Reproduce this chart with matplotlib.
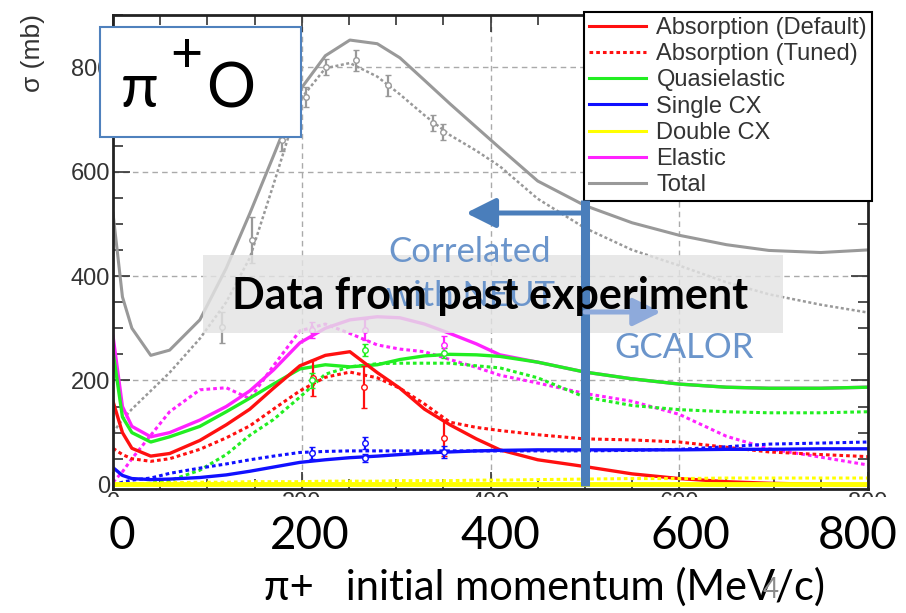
import matplotlib
matplotlib.use('Agg')
import matplotlib.pyplot as plt
from matplotlib.patches import Rectangle

plt.rcParams['font.family'] = ['Liberation Sans', 'DejaVu Sans']

# momento inicial del pion (MeV/c)
p = [0, 10, 20, 40, 60, 92, 120, 145, 170, 198, 225, 251, 280, 304, 330, 357,
     385, 410, 450, 500, 550, 600, 650, 695, 750, 800]

total = [520, 360, 300, 248, 258, 316, 415, 520, 630, 756, 822, 852, 845, 818, 775, 730,
         685, 645, 582, 535, 502, 478, 460, 449, 445, 450]
total_tuned = [100, 125, 145, 180, 215, 280, 350, 435, 575, 737, 798, 808, 782, 748, 708, 670,
               640, 610, 548, 492, 450, 420, 388, 365, 345, 330]
abs_default = [160, 100, 70, 55, 60, 85, 115, 145, 185, 228, 248, 255, 215, 185, 145, 115,
               88, 67, 48, 35, 21, 12, 6, 3, 1, 0]
abs_tuned = [70, 58, 50, 45, 50, 68, 90, 113, 145, 180, 206, 216, 205, 185, 155, 120,
             110, 104, 96, 88, 86, 82, 72, 63, 58, 54]
quasi = [255, 130, 100, 82, 92, 112, 140, 166, 193, 222, 230, 226, 230, 240, 247, 250,
         249, 246, 235, 216, 203, 193, 187, 185, 185, 187]
quasi_tuned = [0, 0, 1, 3, 8, 28, 58, 95, 125, 168, 212, 226, 232, 233, 233, 233,
               228, 224, 205, 168, 152, 144, 140, 138, 138, 140]
single_cx = [33, 18, 12, 10, 11, 14, 19, 26, 34, 43, 48, 52, 55, 58, 61, 63,
             65, 66, 67, 67, 67, 67, 68, 68, 69, 69]
single_cx_tuned = [0, 5, 9, 13, 22, 32, 40, 48, 55, 62, 64, 65, 65, 65, 65, 65,
                   65, 65, 65, 65, 66, 68, 73, 78, 80, 82]
double_cx = [2, 2, 2, 2, 2, 2, 2, 2, 2, 2, 2, 2, 2, 2, 2, 2,
             2, 2, 2, 2, 2, 2, 2, 2, 2, 2]
double_cx_tuned = [0, 1, 2, 3, 4, 5, 5, 6, 6, 6, 7, 7, 7, 8, 8, 8,
                   9, 9, 10, 11, 12, 12, 13, 13, 13, 13]
elastic = [285, 150, 112, 92, 100, 124, 150, 180, 220, 272, 300, 316, 322, 320, 308, 290,
           270, 249, 235, 216, 203, 193, 187, 185, 185, 187]
elastic_tuned = [5, 25, 50, 95, 140, 182, 186, 165, 228, 295, 308, 290, 268, 260, 255, 240,
                 225, 210, 195, 175, 160, 135, 93, 69, 53, 38]

# datos experimentales (con barras de error)
tot_x = [115, 147, 179, 205, 226, 258, 291, 339, 350]
tot_y = [302, 469, 660, 743, 800, 813, 765, 693, 676]
tot_err = [30, 45, 20, 20, 15, 20, 20, 15, 15]
abs_x = [212, 266, 351]
abs_y = [205, 187, 90]
abs_err = [35, 40, 35]
qe_x = [211, 267, 351]
qe_y = [200, 258, 252]
qe_err = [15, 12, 10]
el_x = [211, 267, 351]
el_y = [297, 297, 268]
el_err = [15, 20, 18]
scx_x = [211, 267, 267, 351]
scx_y = [61, 80, 52, 63]
scx_err = [12, 12, 8, 12]

big_ticks = ['0', '200', '400', '600', '800']

ROJO, VERDE, AZUL, AMARILLO, MAGENTA, GRIS = '#ff1010', '#22ee22', '#1010ff', '#ffff00', '#ff22ff', '#999999'
PUNTOS = (0, (1.2, 1.0))

fig = plt.figure(figsize=(9.06, 6.13), dpi=100)
ax = fig.add_axes([113 / 906, 1 - 489 / 613, 755 / 906, 474 / 613])

ax.plot(p, total_tuned, color=GRIS, lw=1.8, ls=PUNTOS)
l_tot, = ax.plot(p, total, color=GRIS, lw=2.2, label='Total')
ax.plot(p, elastic_tuned, color=MAGENTA, lw=2.2, ls=PUNTOS)
l_el, = ax.plot(p, elastic, color=MAGENTA, lw=2.4, label='Elastic')
ax.plot(p, quasi_tuned, color=VERDE, lw=2.2, ls=PUNTOS)
l_qe, = ax.plot(p, quasi, color=VERDE, lw=2.4, label='Quasielastic')
l_abt, = ax.plot(p, abs_tuned, color=ROJO, lw=2.2, ls=PUNTOS, label='Absorption (Tuned)')
l_abs, = ax.plot(p, abs_default, color=ROJO, lw=2.4, label='Absorption (Default)')
ax.plot(p, single_cx_tuned, color=AZUL, lw=2.2, ls=PUNTOS)
l_scx, = ax.plot(p, single_cx, color=AZUL, lw=2.4, label='Single CX')
ax.plot(p, double_cx_tuned, color=AMARILLO, lw=2.2, ls=PUNTOS)
l_dcx, = ax.plot(p, double_cx, color=AMARILLO, lw=3.5, label='Double CX')

for xs, ys, es, c in [(tot_x, tot_y, tot_err, GRIS), (abs_x, abs_y, abs_err, ROJO),
                      (qe_x, qe_y, qe_err, VERDE), (el_x, el_y, el_err, MAGENTA),
                      (scx_x, scx_y, scx_err, AZUL)]:
    ax.errorbar(xs, ys, yerr=es, fmt='o', ms=4, mfc='white', mec=c, ecolor=c,
                elinewidth=1.6, capsize=2, zorder=4)

ax.set_xlim(0, 800)
ax.set_ylim(-8, 900)
ax.set_xticks([0, 200, 400, 600, 800])
ax.set_xticks(range(0, 801, 50), minor=True)
ax.set_yticks([0, 200, 400, 600, 800])
ax.set_yticks(range(0, 901, 50), minor=True)
ax.tick_params(which='both', direction='in', top=True, right=True, colors='#333333',
               labelsize=17, width=1.2)
ax.tick_params(which='major', length=12, pad=2)
ax.tick_params(which='minor', length=7)
ax.grid(True, which='major', ls=(0, (4, 3)), color='#aaaaaa', lw=1)
for s in ax.spines.values():
    s.set_linewidth(2)
    s.set_color('#222222')
ax.set_ylabel('σ (mb)', fontsize=19, color='#333333')
ax.yaxis.set_label_coords(-0.09, 0.92)

leg = ax.legend(handles=[l_abs, l_abt, l_qe, l_scx, l_dcx, l_el, l_tot],
                loc='upper right', bbox_to_anchor=(1.005, 1.006), borderaxespad=0,
                fontsize=17, labelspacing=0.18, borderpad=0.2, handlelength=2.4,
                handletextpad=0.45, fancybox=False, framealpha=1, edgecolor='black')
leg.get_frame().set_linewidth(1.5)
for t in leg.get_texts():
    t.set_color('#333333')
for h in leg.get_lines():
    h.set_linewidth(2.2)

# capa de la diapositiva (coordenadas en pixeles)
ov = fig.add_axes([0, 0, 1, 1])
ov.set_zorder(10)
ov.set_xlim(0, 906)
ov.set_ylim(613, 0)
ov.axis('off')

SLIDE = ['Lato', 'DejaVu Sans']
AZUL_PPT = '#4a7ebb'
AZUL_TXT = '#6b95cb'

ov.add_patch(Rectangle((0, 497), 906, 116, facecolor='white', edgecolor='none'))
for lab, xp in zip(big_ticks, [122, 310, 500, 690, 858]):
    ov.text(xp, 549, lab, ha='center', va='baseline', fontsize=33, family=SLIDE)
ov.text(545, 600, 'π+   initial momentum (MeV/c)', ha='center', va='baseline',
        fontsize=30, family=SLIDE)
ov.text(771, 598, '4', ha='center', va='baseline', fontsize=20, color='#8c8c8c', family=SLIDE)

ov.plot([585, 585], [200, 486], color=AZUL_PPT, lw=6.5, solid_capstyle='butt')
ov.annotate('', xy=(466, 213), xytext=(587, 213),
            arrowprops=dict(arrowstyle='-|>,head_length=0.9,head_width=0.45',
                            mutation_scale=20, lw=3.6, color=AZUL_PPT, shrinkA=0, shrinkB=0))
ov.annotate('', xy=(661, 312), xytext=(585, 312),
            arrowprops=dict(arrowstyle='-|>,head_length=0.85,head_width=0.42',
                            mutation_scale=20, lw=3.6, color='#8eaadb', shrinkA=0, shrinkB=0))
ov.text(470, 262, 'Correlated', ha='center', va='baseline', fontsize=25, color=AZUL_TXT, family=SLIDE)
ov.text(470, 306, 'with NEUT', ha='center', va='baseline', fontsize=25, color=AZUL_TXT, family=SLIDE)
ov.text(684, 358, 'GCALOR', ha='center', va='baseline', fontsize=25, color=AZUL_TXT, family=SLIDE)

ov.add_patch(Rectangle((203, 255), 580, 78, facecolor='#e3e3e3', edgecolor='none', alpha=0.82))
ov.text(490, 309, 'Data from past experiment', ha='center', va='baseline', fontsize=31,
        fontweight='bold', family=SLIDE)

ov.add_patch(Rectangle((100, 27), 201, 110, facecolor='white', edgecolor='#4f81bd', lw=1.5))
ov.text(140, 107, 'π', ha='center', va='baseline', fontsize=44, family=SLIDE)
ov.text(186, 72, '+', ha='center', va='baseline', fontsize=40, family=SLIDE)
ov.text(231, 107, 'O', ha='center', va='baseline', fontsize=44, family=SLIDE)

fig.savefig('out.png', dpi=100)
